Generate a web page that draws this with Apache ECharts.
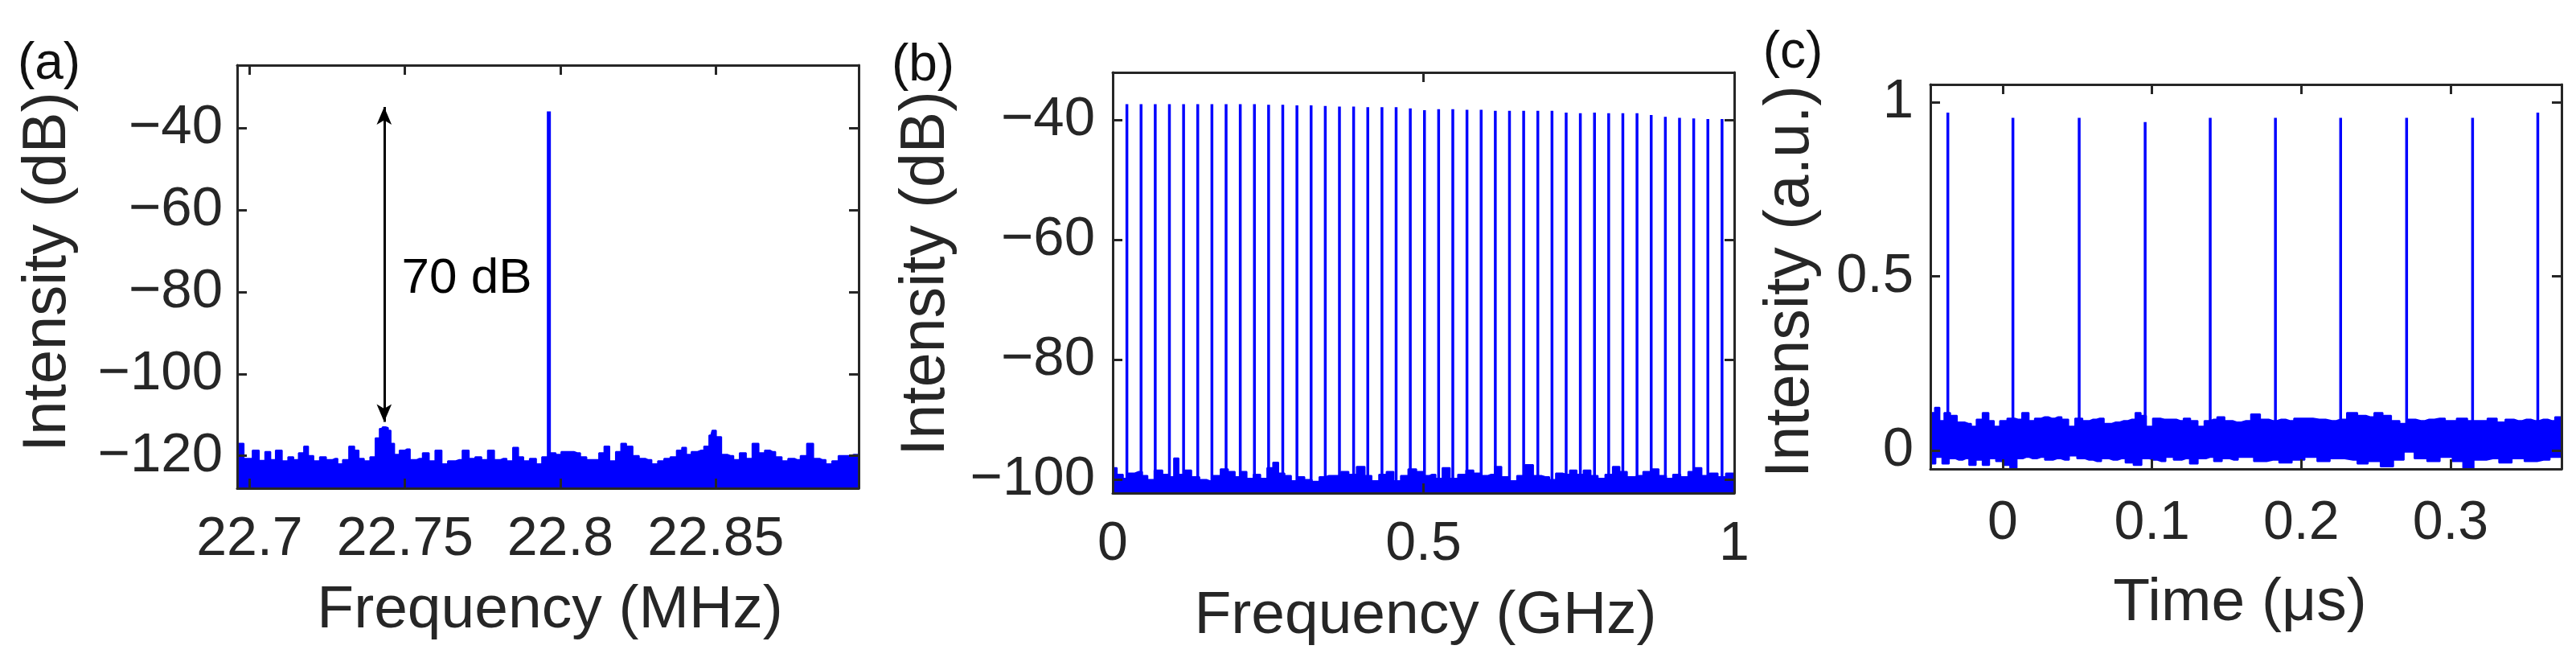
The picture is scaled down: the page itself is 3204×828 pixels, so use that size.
<!DOCTYPE html>
<html>
<head>
<meta charset="utf-8">
<script src="https://cdn.jsdelivr.net/npm/echarts@6/dist/echarts.min.js"></script>
<style>
html,body{margin:0;padding:0;background:#fff;}
#c{width:3204px;height:828px;}
</style>
</head>
<body>
<div id="c"></div>
<script>
// ---------- Panel (a): RF spectrum around the repetition rate ----------
const aXTicks = [22.7, 22.75, 22.8, 22.85];
const aYTicks = [-120, -100, -80, -60, -40];
const aNoiseFreq = [22.6963,22.6999,22.7020,22.7040,22.7060,22.7074,22.7094,22.7114,22.7134,22.7148,22.7168,22.7182,22.7195,22.7216,22.7236,22.7256,22.7276,22.7290,22.7310,22.7330,22.7344,22.7358,22.7378,22.7398,22.7412,22.7425,22.7432,22.7442,22.7449,22.7459,22.7472,22.7493,22.7506,22.7526,22.7547,22.7567,22.7587,22.7608,22.7628,22.7648,22.7675,22.7695,22.7716,22.7736,22.7756,22.7777,22.7797,22.7817,22.7837,22.7858,22.7871,22.7891,22.7912,22.7932,22.7950,22.7977,22.7993,22.8013,22.8033,22.8054,22.8074,22.8094,22.8114,22.8135,22.8148,22.8168,22.8189,22.8202,22.8222,22.8243,22.8263,22.8283,22.8304,22.8324,22.8344,22.8364,22.8385,22.8398,22.8412,22.8432,22.8452,22.8473,22.8485,22.8493,22.8509,22.8527,22.8547,22.8567,22.8587,22.8608,22.8628,22.8648,22.8668,22.8682,22.8702,22.8723,22.8743,22.8763,22.8783,22.8804,22.8824,22.8844,22.8864,22.8885,22.8905,22.8925,22.8945,22.8963];
const aNoiseDb = [-117.0,-120.7,-118.7,-121.2,-119.0,-121.0,-118.7,-121.3,-120.3,-121.0,-119.3,-117.7,-120.0,-121.3,-120.3,-121.0,-120.7,-122.0,-121.0,-117.7,-118.7,-120.7,-121.3,-120.3,-115.7,-113.4,-113.0,-113.2,-113.8,-117.0,-119.7,-118.7,-118.4,-121.0,-120.7,-119.3,-121.3,-118.7,-122.0,-121.3,-121.0,-118.7,-120.7,-120.3,-121.0,-118.7,-121.0,-120.7,-121.3,-118.0,-120.3,-121.3,-120.7,-122.0,-120.3,-119.3,-119.7,-119.0,-119.0,-119.3,-120.3,-121.0,-121.0,-119.3,-117.7,-121.3,-119.0,-117.0,-117.7,-120.0,-120.7,-121.0,-122.0,-121.3,-120.7,-120.3,-118.7,-118.0,-119.7,-119.0,-118.7,-117.7,-115.0,-113.8,-115.4,-119.7,-120.0,-121.0,-119.3,-120.7,-117.0,-119.3,-118.7,-119.0,-120.3,-121.3,-120.7,-121.0,-120.0,-117.0,-120.7,-121.0,-122.0,-121.3,-120.0,-120.0,-119.7,-119.7];
const aCarrierFreq = 22.7963;
const aCarrierDb = -36.0;
const aCarrierBaseDb = -121.0;
const aArrowFreq = 22.7433;
const aArrowTopDb = -34.9;
const aArrowBottomDb = -111.7;
const aNoteFreq = 22.7488;
const aNoteDb = -76.8;
const aNoteText = '70 dB';

// ---------- Panel (b): wide RF comb ----------
const bXTicks = [0, 0.5, 1];
const bYTicks = [-100, -80, -60, -40];
const bCombFreq = [0.0228,0.0456,0.0684,0.0912,0.1140,0.1368,0.1596,0.1824,0.2052,0.2280,0.2508,0.2736,0.2964,0.3192,0.3420,0.3648,0.3876,0.4104,0.4332,0.4560,0.4788,0.5016,0.5244,0.5472,0.5700,0.5928,0.6156,0.6384,0.6612,0.6840,0.7068,0.7296,0.7524,0.7752,0.7980,0.8208,0.8436,0.8664,0.8892,0.9120,0.9348,0.9576,0.9804];
const bCombDb = [-37.4,-37.4,-37.4,-37.4,-37.4,-37.4,-37.4,-37.4,-37.4,-37.4,-37.5,-37.5,-37.6,-37.6,-37.7,-37.8,-37.8,-37.9,-37.9,-37.9,-38.1,-38.4,-38.25,-38.25,-38.35,-38.35,-38.5,-38.5,-38.5,-38.5,-38.5,-38.8,-38.9,-38.8,-38.9,-38.9,-38.9,-39.2,-39.5,-39.7,-39.8,-39.9,-39.9];
const bCombBaseDb = -100.5;
const bNoiseFreq = [0,0.0013,0.012,0.021,0.029,0.042,0.053,0.059,0.075,0.085,0.094,0.103,0.109,0.120,0.133,0.146,0.157,0.167,0.180,0.191,0.202,0.210,0.221,0.232,0.243,0.254,0.262,0.271,0.282,0.292,0.303,0.314,0.327,0.338,0.348,0.361,0.374,0.385,0.400,0.411,0.422,0.435,0.446,0.458,0.469,0.482,0.495,0.506,0.514,0.525,0.536,0.549,0.562,0.575,0.586,0.599,0.609,0.620,0.631,0.644,0.657,0.670,0.683,0.696,0.709,0.717,0.730,0.741,0.752,0.763,0.775,0.786,0.799,0.810,0.821,0.834,0.847,0.860,0.872,0.885,0.896,0.907,0.920,0.932,0.941,0.954,0.967,0.980,0.993,1.0];
const bNoiseDb = [-90,-98.1,-99.2,-99.9,-99.0,-98.75,-99.4,-100.1,-98.5,-99.2,-99.6,-96.5,-99.2,-98.5,-99.6,-100.1,-100.3,-99.4,-98.3,-98.75,-99.6,-98.75,-99.9,-99.2,-99.9,-98.1,-97.2,-99.0,-99.4,-100.3,-99.6,-100.1,-100.5,-99.6,-99.4,-99.4,-98.75,-99.2,-97.9,-99.4,-100.3,-99.2,-98.75,-100.3,-99.4,-98.3,-98.75,-99.4,-99.2,-99.9,-98.1,-99.9,-99.2,-98.5,-99.0,-99.4,-99.2,-97.9,-99.6,-100.3,-99.4,-97.6,-99.4,-99.6,-100.1,-99.0,-99.2,-98.5,-99.2,-98.5,-99.4,-99.9,-99.2,-97.9,-98.75,-99.6,-99.4,-98.75,-98.3,-99.4,-99.9,-99.2,-99.6,-98.75,-98.1,-99.4,-99.0,-99.6,-99.0,-99.0];

// ---------- Panel (c): pulse train ----------
const cXTicks = [0, 0.1, 0.2, 0.3];
const cYTicks = [0, 0.5, 1];
const cPulseTime = [-0.0368,0.0068,0.0512,0.0954,0.1390,0.1827,0.2264,0.2706,0.3148,0.3585];
const cPulsePeak = [0.970,0.955,0.955,0.943,0.955,0.955,0.955,0.955,0.955,0.970];
const cPulseBase = 0.04;
const cUpperTime = [-0.0485,-0.0473,-0.0437,-0.0410,-0.0374,-0.0330,-0.0284,-0.0230,-0.0194,-0.0158,-0.0113,-0.0077,-0.0041,0.0003,0.0057,0.0102,0.0156,0.0192,0.0237,0.0282,0.0327,0.0372,0.0417,0.0462,0.0507,0.0561,0.0606,0.0651,0.0704,0.0758,0.0812,0.0866,0.0911,0.0938,0.0983,0.1028,0.1082,0.1136,0.1189,0.1234,0.1279,0.1333,0.1369,0.1414,0.1459,0.1513,0.1567,0.1630,0.1696,0.1753,0.1810,0.1866,0.1923,0.1980,0.2036,0.2121,0.2206,0.2263,0.2348,0.2404,0.2461,0.2517,0.2574,0.2631,0.2687,0.2730,0.2801,0.2857,0.2928,0.2999,0.3084,0.3141,0.3212,0.3283,0.3339,0.3396,0.3453,0.3509,0.3566,0.3623,0.3679,0.3722,0.3744];
const cUpper = [0.100,0.108,0.123,0.085,0.108,0.100,0.081,0.077,0.069,0.089,0.108,0.085,0.069,0.085,0.092,0.089,0.108,0.085,0.092,0.096,0.092,0.096,0.089,0.069,0.092,0.085,0.089,0.092,0.077,0.081,0.085,0.089,0.108,0.100,0.069,0.092,0.089,0.089,0.085,0.092,0.085,0.069,0.085,0.089,0.096,0.085,0.081,0.085,0.104,0.089,0.085,0.089,0.085,0.092,0.092,0.089,0.085,0.089,0.108,0.100,0.096,0.108,0.100,0.085,0.077,0.089,0.085,0.089,0.092,0.085,0.092,0.085,0.085,0.092,0.081,0.089,0.085,0.089,0.085,0.089,0.085,0.096,0.096];
const cLowerTime = [-0.0485,-0.0473,-0.0428,-0.0383,-0.0338,-0.0293,-0.0248,-0.0203,-0.0158,-0.0113,-0.0068,-0.0023,0.0022,0.0076,0.0111,0.0156,0.0201,0.0255,0.0309,0.0363,0.0417,0.0471,0.0525,0.0579,0.0633,0.0687,0.0741,0.0795,0.0849,0.0903,0.0957,0.1010,0.1064,0.1118,0.1172,0.1226,0.1280,0.1334,0.1388,0.1442,0.1495,0.1549,0.1603,0.1640,0.1725,0.1810,0.1894,0.1980,0.2065,0.2149,0.2234,0.2348,0.2404,0.2489,0.2574,0.2659,0.2716,0.2801,0.2886,0.2971,0.3056,0.3113,0.3198,0.3283,0.3368,0.3453,0.3538,0.3623,0.3707,0.3744];
const cLower = [-0.038,-0.038,-0.019,-0.038,-0.023,-0.027,-0.023,-0.042,-0.027,-0.042,-0.023,-0.031,-0.042,-0.050,-0.023,-0.019,-0.023,-0.019,-0.027,-0.023,-0.027,-0.015,-0.023,-0.027,-0.031,-0.023,-0.027,-0.023,-0.035,-0.042,-0.023,-0.027,-0.031,-0.019,-0.027,-0.023,-0.038,-0.023,-0.019,-0.031,-0.023,-0.027,-0.019,-0.019,-0.031,-0.027,-0.035,-0.027,-0.019,-0.031,-0.023,-0.027,-0.038,-0.031,-0.046,-0.027,-0.004,-0.023,-0.031,-0.019,-0.031,-0.050,-0.027,-0.023,-0.035,-0.023,-0.031,-0.027,-0.019,-0.019];

// ---------- Text ----------
const panelLabels = ['(a)', '(b)', '(c)'];
const xTitles = ['Frequency (MHz)', 'Frequency (GHz)', 'Time (\u03bcs)'];
const yTitles = ['Intensity (dB)', 'Intensity (dB)', 'Intensity (a.u.)'];

// ---------- Build ----------
const FONT = '"Liberation Sans", Arial, Helvetica, sans-serif';
const INK = '#262626';
const BLUE = '#0000ff';

const zip = (xs, ys) => xs.map((x, i) => [x, ys[i]]);
const minusFmt = v => (v < 0 ? '\u2212' + Math.abs(v) : String(v));

const grids = [
  {left: 295, top: 81, width: 773, height: 526},
  {left: 1384, top: 90, width: 773, height: 523},
  {left: 2401, top: 105, width: 785, height: 478}
];
const ranges = [
  {x: [22.696, 22.896], y: [-127.9, -24.7], xt: aXTicks, yt: aYTicks},
  {x: [0, 1], y: [-102.3, -32.1], xt: bXTicks, yt: bYTicks},
  {x: [-0.0485, 0.3744], y: [-0.053, 1.051], xt: cXTicks, yt: cYTicks}
];
const xMargins = [30, 30, 34];
const yMargins = [18, 22, 21];

const lineStyleAx = {color: INK, width: 3};
const xAxis = [], yAxis = [];
ranges.forEach((r, g) => {
  ['bottom', 'top'].forEach(pos => {
    xAxis.push({
      type: 'value', gridIndex: g, position: pos, min: r.x[0], max: r.x[1], z: 10,
      axisLine: {show: true, onZero: false, lineStyle: lineStyleAx},
      axisTick: {show: true, inside: true, length: 12, customValues: r.xt, lineStyle: lineStyleAx},
      axisLabel: {show: pos === 'bottom', customValues: r.xt, formatter: v => String(v),
        fontSize: 68, fontFamily: FONT, color: INK, margin: xMargins[g]},
      splitLine: {show: false}
    });
  });
  ['left', 'right'].forEach(pos => {
    yAxis.push({
      type: 'value', gridIndex: g, position: pos, min: r.y[0], max: r.y[1], z: 10,
      axisLine: {show: true, onZero: false, lineStyle: lineStyleAx},
      axisTick: {show: true, inside: true, length: 12, customValues: r.yt, lineStyle: lineStyleAx},
      axisLabel: {show: pos === 'left', customValues: r.yt, formatter: minusFmt,
        fontSize: 69, fontFamily: FONT, color: INK, margin: yMargins[g]},
      splitLine: {show: false}
    });
  });
});

const combData = [];
bCombFreq.forEach((f, i) => { combData.push([f, bCombBaseDb], [f, bCombDb[i]], [f, bCombBaseDb]); });
const pulseData = [];
cPulseTime.forEach((t, i) => { pulseData.push([t, cPulseBase], [t, cPulsePeak[i]], [t, cPulseBase]); });

const series = [
  { // (a) noise floor with side modes
    type: 'line', xAxisIndex: 0, yAxisIndex: 0, data: zip(aNoiseFreq, aNoiseDb),
    step: 'middle', symbol: 'none', z: 2, animation: false,
    lineStyle: {color: BLUE, width: 2}, areaStyle: {color: BLUE, opacity: 1, origin: 'start'}
  },
  { // (a) carrier
    type: 'line', xAxisIndex: 0, yAxisIndex: 0,
    data: [[aCarrierFreq, aCarrierBaseDb], [aCarrierFreq, aCarrierDb]],
    symbol: 'none', z: 3, animation: false, lineStyle: {color: BLUE, width: 5},
    markLine: {
      silent: true, animation: false, symbol: ['arrow', 'arrow'], symbolSize: [14, 22],
      label: {show: false}, lineStyle: {color: '#000', width: 3, type: 'solid', opacity: 1},
      data: [[{coord: [aArrowFreq, aArrowTopDb]}, {coord: [aArrowFreq, aArrowBottomDb]}]]
    }
  },
  { // (a) annotation
    type: 'scatter', xAxisIndex: 0, yAxisIndex: 0, data: [[aNoteFreq, aNoteDb]],
    symbolSize: 1, itemStyle: {color: '#ffffff', opacity: 1}, z: 5, animation: false, silent: true,
    label: {show: true, formatter: aNoteText, position: 'right', distance: 0, opacity: 1,
      fontSize: 62, fontFamily: FONT, color: '#000000'}
  },
  { // (b) noise floor
    type: 'line', xAxisIndex: 2, yAxisIndex: 2, data: zip(bNoiseFreq, bNoiseDb),
    step: 'middle', symbol: 'none', z: 2, animation: false,
    lineStyle: {color: BLUE, width: 2}, areaStyle: {color: BLUE, opacity: 1, origin: 'start'}
  },
  { // (b) comb lines
    type: 'line', xAxisIndex: 2, yAxisIndex: 2, data: combData,
    symbol: 'none', z: 3, animation: false, lineStyle: {color: BLUE, width: 3.5}
  },
  { // (c) noise band upper edge
    type: 'line', xAxisIndex: 4, yAxisIndex: 4, data: zip(cUpperTime, cUpper),
    step: 'middle', symbol: 'none', z: 2, animation: false,
    lineStyle: {color: BLUE, width: 2}, areaStyle: {color: BLUE, opacity: 1, origin: 'start'}
  },
  { // (c) noise band lower edge
    type: 'line', xAxisIndex: 4, yAxisIndex: 4, data: zip(cLowerTime, cLower),
    step: 'middle', symbol: 'none', z: 3, animation: false,
    lineStyle: {color: BLUE, width: 2}, areaStyle: {color: '#fff', opacity: 1, origin: 'start'}
  },
  { // (c) pulses
    type: 'line', xAxisIndex: 4, yAxisIndex: 4, data: pulseData,
    symbol: 'none', z: 4, animation: false, lineStyle: {color: BLUE, width: 3.5}
  }
];

const textEl = (txt, x, y, size, rot, color) => ({
  type: 'text', x: x, y: y, rotation: rot || 0, z: 20, silent: true,
  style: {text: txt, fontSize: size, fontFamily: FONT, fill: color || INK,
    align: 'center', verticalAlign: 'middle', textAlign: 'center', textVerticalAlign: 'middle'}
});
const graphic = [
  textEl(panelLabels[0], 61, 80, 64, 0, '#111'),
  textEl(panelLabels[1], 1148, 82, 64, 0, '#111'),
  textEl(panelLabels[2], 2230, 66, 64, 0, '#111'),
  textEl(xTitles[0], 684, 759, 75),
  textEl(xTitles[1], 1773, 766, 75),
  textEl(xTitles[2], 2786, 750, 75),
  textEl(yTitles[0], 60, 338, 76, Math.PI / 2),
  textEl(yTitles[1], 1153, 340, 77, Math.PI / 2),
  textEl(yTitles[2], 2228, 350, 77, Math.PI / 2)
];

const chart = echarts.init(document.getElementById('c'), null, {renderer: 'canvas'});
chart.setOption({
  backgroundColor: '#fff',
  animation: false,
  grid: grids,
  xAxis: xAxis,
  yAxis: yAxis,
  series: series,
  graphic: graphic
});
</script>
</body>
</html>
